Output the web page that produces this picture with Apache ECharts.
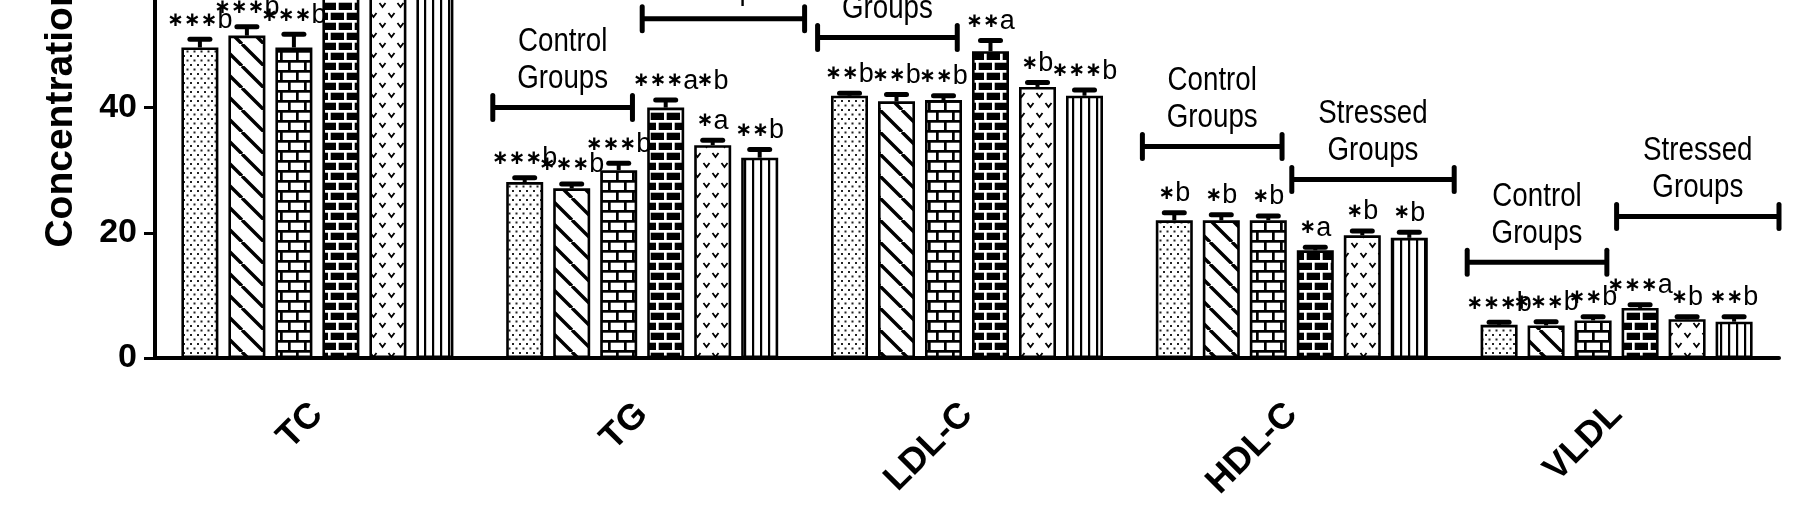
<!DOCTYPE html>
<html>
<head>
<meta charset="utf-8">
<script src="https://cdn.jsdelivr.net/npm/echarts@6/dist/echarts.min.js"></script>
<style>
  html, body { margin: 0; padding: 0; background: #fff; }
  #chart { width: 1802px; height: 529px; }
</style>
</head>
<body>
<div id="chart"></div>
<script>
const categories = ['TC', 'TG', 'LDL-C', 'HDL-C', 'VLDL'];
const groupNames = ['Control 1', 'Control 2', 'Control 3', 'Stressed 1', 'Stressed 2', 'Stressed 3'];

// means (mg/dl), one array per group, in category order
const ctrl1 = [49.6, 28.1, 41.9, 22.0, 5.3];
const ctrl2 = [51.5, 27.1, 41.0, 22.0, 5.2];
const ctrl3 = [49.6, 30.0, 41.2, 22.0, 6.0];
const stress1 = [68.0, 40.0, 49.0, 17.2, 8.0];
const stress2 = [63.0, 34.0, 43.3, 19.6, 6.2];
const stress3 = [61.0, 32.0, 41.9, 19.2, 5.8];

// error (upper whisker only)
const err1 = [1.3, 0.7, 0.4, 1.2, 0.4];
const err2 = [1.4, 0.7, 1.1, 0.9, 0.6];
const err3 = [2.1, 1.1, 0.7, 0.7, 0.6];
const err4 = [2.0, 1.2, 1.7, 0.5, 0.5];
const err5 = [2.0, 0.8, 0.7, 0.7, 0.4];
const err6 = [2.0, 1.3, 0.9, 0.9, 0.8];

// significance marks above each bar
const sig1 = ['***b', '***b', '**b', '*b', '***b'];
const sig2 = ['***b', '***b', '**b', '*b', '***b'];
const sig3 = ['***b', '***b', '**b', '*b', '**b'];
const sig4 = ['***a', '***a', '**a', '*a', '***a'];
const sig5 = ['*b', '*b\n*a', '*b', '*b', '*b'];
const sig6 = ['**b', '**b', '***b', '*b', '**b'];

// heights of the group brackets
const controlBracket = [62, 40.0, 51.2, 33.8, 15.3];
const stressedBracket = [82, 54.2, 63, 28.5, 22.6];
const bracketText = ['Control\nGroups', 'Stressed\nGroups'];

const means = [ctrl1, ctrl2, ctrl3, stress1, stress2, stress3];
const errs = [err1, err2, err3, err4, err5, err6];
const sigs = [sig1, sig2, sig3, sig4, sig5, sig6];

const BAR_W = 37, BAR_GAP = 10;
const PITCH = BAR_W + BAR_GAP;

// hatch fills drawn on small canvases
function tile(w, h, bg, draw) {
  const c = document.createElement('canvas');
  c.width = w; c.height = h;
  const g = c.getContext('2d');
  g.fillStyle = bg; g.fillRect(0, 0, w, h);
  g.fillStyle = g.strokeStyle = bg === '#000' ? '#fff' : '#000';
  draw(g);
  return { image: c, repeat: 'repeat' };
}
function bricks(g) {
  g.fillRect(0, 0, 16, 2.7);
  g.fillRect(0, 10, 16, 2.7);
  g.fillRect(0, 0, 2.7, 10);
  g.fillRect(8, 10, 2.7, 10);
}
const fills = [
  tile(7, 9, '#fff', g => { g.fillStyle = '#222'; g.fillRect(1, 1, 2, 2); g.fillRect(4.5, 5.5, 2, 2); }),
  tile(22, 22, '#fff', g => {
    g.lineWidth = 3.4; g.beginPath();
    [-22, 0, 22].forEach(o => { g.moveTo(o, 0); g.lineTo(o + 22, 22); });
    g.stroke();
  }),
  tile(16, 20, '#fff', bricks),
  tile(16, 20, '#000', bricks),
  tile(18, 20, '#fff', g => {
    g.lineWidth = 1.8; g.beginPath();
    [[4.5, 5], [13.5, 15]].forEach(([x, y]) => { g.moveTo(x - 3, y - 2); g.lineTo(x, y + 2); g.lineTo(x + 3, y - 2); });
    g.stroke();
  }),
  tile(8.5, 4, '#fff', g => { g.fillRect(0, 0, 2.2, 4); })
];

function toRich(mark) {
  return mark.split('\n').map(line => {
    const m = line.match(/^(\**)(.*)$/);
    const stars = m[1] ? '{s|' + m[1].replace(/\*/g, '\u2217') + '}' : '';
    return stars + '{t|' + m[2] + '}';
  }).join('\n');
}

const errData = [];
means.forEach((vals, gi) => vals.forEach((v, ci) => errData.push([ci, v, errs[gi][ci], gi])));

const bracketData = [];
categories.forEach((c, ci) => {
  bracketData.push([ci, controlBracket[ci], 0]);
  bracketData.push([ci, stressedBracket[ci], 1]);
});

function renderErr(params, api) {
  const ci = api.value(0), v = api.value(1), e = api.value(2), gi = api.value(3);
  const base = api.coord([ci, v]);
  const x = base[0] + (gi - 2.5) * PITCH;
  const yTop = api.coord([ci, v + e])[1];
  const children = [
    { type: 'line', shape: { x1: x, y1: base[1], x2: x, y2: yTop }, style: { stroke: '#000', lineWidth: 4 } },
    { type: 'line', shape: { x1: x - 10, y1: yTop, x2: x + 10, y2: yTop }, style: { stroke: '#000', lineWidth: 5, lineCap: 'round' } }
  ];
  const mark = sigs[gi][ci];
  if (mark) {
    children.push({
      type: 'text', x: x, y: yTop + 1,
      style: {
        text: toRich(mark), align: 'center', verticalAlign: 'bottom', fill: '#000',
        rich: {
          s: { fontFamily: 'DejaVu Sans', fontSize: 20, fontWeight: 'bold', fill: '#000', lineHeight: 40 },
          t: { fontFamily: 'Liberation Sans', fontSize: 27, fill: '#000', lineHeight: 40 }
        }
      }
    });
  }
  return { type: 'group', children };
}

function renderBracket(params, api) {
  const ci = api.value(0), lvl = api.value(1), kind = api.value(2);
  const p = api.coord([ci, lvl]);
  const band = api.size([1, 0])[0];
  const span = kind === 0 ? [-0.46, -0.03] : [0.0, 0.5];
  const x1 = p[0] + span[0] * band, x2 = p[0] + span[1] * band, y = p[1];
  const ln = { stroke: '#000', lineWidth: 5 };
  return {
    type: 'group',
    children: [
      { type: 'line', shape: { x1: x1, y1: y, x2: x2, y2: y }, style: ln },
      { type: 'line', shape: { x1: x1, y1: y - 12, x2: x1, y2: y + 12 }, style: Object.assign({ lineCap: 'round' }, ln) },
      { type: 'line', shape: { x1: x2, y1: y - 12, x2: x2, y2: y + 12 }, style: Object.assign({ lineCap: 'round' }, ln) },
      {
        type: 'text', x: (x1 + x2) / 2, y: y - 10, scaleX: 0.84,
        style: {
          text: bracketText[kind], align: 'center', verticalAlign: 'bottom',
          fontFamily: 'Liberation Sans', fontSize: 33, lineHeight: 37, fill: '#000'
        }
      }
    ]
  };
}

const chart = echarts.init(document.getElementById('chart'), null, { renderer: 'canvas' });

const series = means.map((vals, i) => ({
  name: groupNames[i],
  type: 'bar',
  data: vals,
  barWidth: BAR_W,
  barGap: (BAR_GAP / BAR_W * 100) + '%',
  itemStyle: { color: fills[i], borderColor: '#000', borderWidth: 2.6 },
  silent: true
}));
series.push({ type: 'custom', data: errData, encode: { x: 0, y: 1 }, renderItem: renderErr, silent: true, z: 5 });
series.push({ type: 'custom', data: bracketData, encode: { x: 0, y: 1 }, renderItem: renderBracket, silent: true, z: 5 });

chart.setOption({
  animation: false,
  backgroundColor: '#fff',
  grid: { left: 155, right: 23, top: -268, bottom: 171, outerBoundsMode: 'none', containLabel: false },
  xAxis: {
    type: 'category',
    data: categories,
    axisLine: { lineStyle: { color: '#000', width: 4 } },
    axisTick: { alignWithLabel: true, length: 15, lineStyle: { color: '#000', width: 3 } },
    axisLabel: {
      interval: 0, rotate: 45, margin: 51, color: '#000',
      fontFamily: 'Liberation Sans', fontWeight: 'bold', fontSize: 36
    }
  },
  yAxis: {
    type: 'value',
    min: 0, max: 100, interval: 20,
    name: 'Concentration (mg/dl)',
    nameLocation: 'middle',
    nameGap: 74,
    nameMoveOverlap: false,
    nameTextStyle: { color: '#000', fontFamily: 'Liberation Sans', fontWeight: 'bold', fontSize: 39 },
    axisLine: { show: true, lineStyle: { color: '#000', width: 4 } },
    axisTick: { show: true, length: 11, lineStyle: { color: '#000', width: 3 } },
    splitLine: { show: false },
    axisLabel: { margin: 18, color: '#000', fontFamily: 'Liberation Sans', fontWeight: 'bold', fontSize: 34 }
  },
  series: series
});
</script>
</body>
</html>
